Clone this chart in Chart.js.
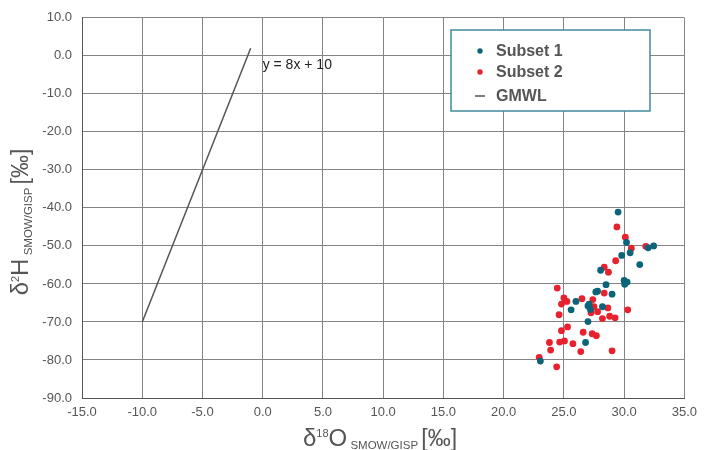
<!DOCTYPE html>
<html>
<head>
<meta charset="utf-8">
<script src="https://cdn.jsdelivr.net/npm/chart.js@4/dist/chart.umd.min.js"></script>
<style>
  body { margin: 0; background: #fff; }
  #wrap { width: 704px; height: 450px; }
</style>
</head>
<body>
<div id="wrap"><canvas id="isoChart" width="704" height="450"></canvas></div>
<script>
// ===== data =====
const subset1X = [29.5, 30.2, 32.0, 32.45, 29.8, 30.5, 31.3, 28.05, 28.5, 30.0, 30.25, 30.05,
  27.65, 27.8, 29.0, 26.0, 25.6, 27.0, 27.1, 28.2, 27.2, 27.0, 26.8, 23.05];
const subset1Y = [-41.1, -49.1, -50.5, -50.0, -52.5, -51.8, -54.9, -56.4, -60.2, -59.1, -59.5, -60.1,
  -62.1, -61.9, -62.7, -64.6, -66.8, -65.8, -65.3, -66.0, -66.7, -69.9, -75.4, -80.3];

const subset2X = [29.4, 30.1, 30.6, 31.8, 29.3, 28.35, 28.7, 24.45, 28.35, 25.0, 25.25, 24.8,
  26.5, 27.4, 24.6, 27.2, 27.5, 27.25, 27.8, 28.65, 28.2, 28.8, 29.25, 30.3,
  25.3, 24.8, 26.6, 27.35, 27.7, 23.8, 24.65, 25.05, 25.75, 23.9, 26.4, 29.0, 22.95, 24.4];
const subset2Y = [-45.0, -47.7, -50.6, -50.1, -53.9, -55.6, -56.9, -61.1, -62.4, -63.7, -64.6, -65.3,
  -63.9, -64.1, -68.1, -66.0, -66.0, -67.6, -67.3, -66.3, -69.1, -68.5, -68.9, -66.8,
  -71.3, -72.3, -72.7, -73.1, -73.6, -75.4, -75.3, -75.0, -75.7, -77.4, -77.8, -77.6, -79.3, -81.8];

const gmwlX = [-10, -1];
const gmwlY = [-70, 2];

const seriesLabels = ['Subset 1', 'Subset 2', 'GMWL'];
const gmwlNote = 'y = 8x + 10';

const xMin = -15, xMax = 35, xStep = 5;
const yMin = -90, yMax = 10, yStep = 10;

const toPoints = (xs, ys) => xs.map((x, i) => ({ x: x, y: ys[i] }));

const TEAL = '#0b6478';
const RED = '#e8212e';
const LINE = '#555555';
const TEXT = '#555555';
const FONT = '"Liberation Sans", Arial, sans-serif';

// draw a title made of pieces (super/subscripts)
function drawRich(ctx, parts, cx, cy, rotate) {
  ctx.save();
  ctx.translate(cx, cy);
  if (rotate) ctx.rotate(-Math.PI / 2);
  let total = 0;
  parts.forEach(p => {
    ctx.font = p.size + 'px ' + FONT;
    p.w = ctx.measureText(p.text).width;
    total += p.w;
  });
  let x = -total / 2;
  ctx.fillStyle = TEXT;
  ctx.textBaseline = 'alphabetic';
  ctx.textAlign = 'left';
  parts.forEach(p => {
    ctx.font = p.size + 'px ' + FONT;
    ctx.fillText(p.text, x, p.dy || 0);
    x += p.w;
  });
  ctx.restore();
}

const extrasPlugin = {
  id: 'extras',
  afterDraw(chart) {
    const ctx = chart.ctx;
    const xs = chart.scales.x, ys = chart.scales.y;

    // equation label next to the GMWL end
    const ex = xs.getPixelForValue(gmwlX[1]);
    const ey = ys.getPixelForValue(gmwlY[1]);
    ctx.save();
    ctx.font = '14px ' + FONT;
    ctx.fillStyle = '#222';
    ctx.textBaseline = 'middle';
    ctx.fillText(gmwlNote, ex + 12, ey + 17);
    ctx.restore();

    // axis titles
    drawRich(ctx, [
      { text: 'δ', size: 24 },
      { text: '18', size: 11, dy: -9 },
      { text: 'O', size: 24 },
      { text: ' SMOW/GISP ', size: 11.5, dy: 3 },
      { text: '[‰]', size: 23 }
    ], 380, 446, false);

    drawRich(ctx, [
      { text: 'δ', size: 24 },
      { text: '2', size: 11, dy: -9 },
      { text: 'H', size: 24 },
      { text: ' SMOW/GISP ', size: 11.5, dy: 4 },
      { text: '[‰]', size: 23 }
    ], 28, 222, true);

    // legend box
    const bx = 451, by = 30, bw = 199, bh = 81;
    const rows = [21, 42, 66];
    ctx.save();
    ctx.fillStyle = '#fff';
    ctx.fillRect(bx, by, bw, bh);
    ctx.strokeStyle = '#3f8b9b';
    ctx.lineWidth = 1.5;
    ctx.strokeRect(bx, by, bw, bh);
    ctx.font = 'bold 16px ' + FONT;
    ctx.textBaseline = 'middle';
    chart.data.datasets.forEach((ds, i) => {
      const ly = by + rows[i];
      if (ds.type === 'line') {
        ctx.strokeStyle = ds.borderColor;
        ctx.lineWidth = 1.5;
        ctx.beginPath();
        ctx.moveTo(bx + 24, ly);
        ctx.lineTo(bx + 34, ly);
        ctx.stroke();
      } else {
        ctx.fillStyle = ds.backgroundColor;
        ctx.beginPath();
        ctx.arc(bx + 29, ly, 2.7, 0, Math.PI * 2);
        ctx.fill();
      }
      ctx.fillStyle = TEXT;
      ctx.fillText(ds.label, bx + 45, ly + 1);
    });
    ctx.restore();
  }
};

const isoChart = document.getElementById('isoChart');

new Chart(isoChart, {
  type: 'scatter',

  data: {
    datasets: [{
      label: seriesLabels[0],
      data: toPoints(subset1X, subset1Y),
      backgroundColor: TEAL,
      borderColor: TEAL,
      borderWidth: 0,
      pointRadius: 3.4
    }, {
      label: seriesLabels[1],
      data: toPoints(subset2X, subset2Y),
      backgroundColor: RED,
      borderColor: RED,
      borderWidth: 0,
      pointRadius: 3.4
    }, {
      type: 'line',
      label: seriesLabels[2],
      data: toPoints(gmwlX, gmwlY),
      borderColor: LINE,
      borderWidth: 1.5,
      pointRadius: 0,
      fill: false
    }]
  },

  options: {
    responsive: false,
    animation: false,

    layout: {
      padding: { left: 0, top: 17, right: 16, bottom: 0 }
    },

    scales: {
      x: {
        type: 'linear',
        min: xMin,
        max: xMax,
        ticks: {
          stepSize: xStep,
          color: TEXT,
          font: { family: FONT, size: 13 },
          padding: 7,
          callback: v => v.toFixed(1)
        },
        grid: { color: '#848484', drawTicks: false },
        border: { color: '#555', width: 1 },
        afterFit: s => { s.height = 52; }
      },
      y: {
        type: 'linear',
        min: yMin,
        max: yMax,
        ticks: {
          stepSize: yStep,
          color: TEXT,
          font: { family: FONT, size: 13 },
          padding: 10,
          callback: v => v.toFixed(1)
        },
        grid: { color: '#848484', drawTicks: false },
        border: { color: '#555', width: 1 },
        afterFit: s => { s.width = 82; }
      }
    },

    plugins: {
      legend: { display: false },
      tooltip: { enabled: false }
    }
  },

  plugins: [extrasPlugin]
});
</script>
</body>
</html>
